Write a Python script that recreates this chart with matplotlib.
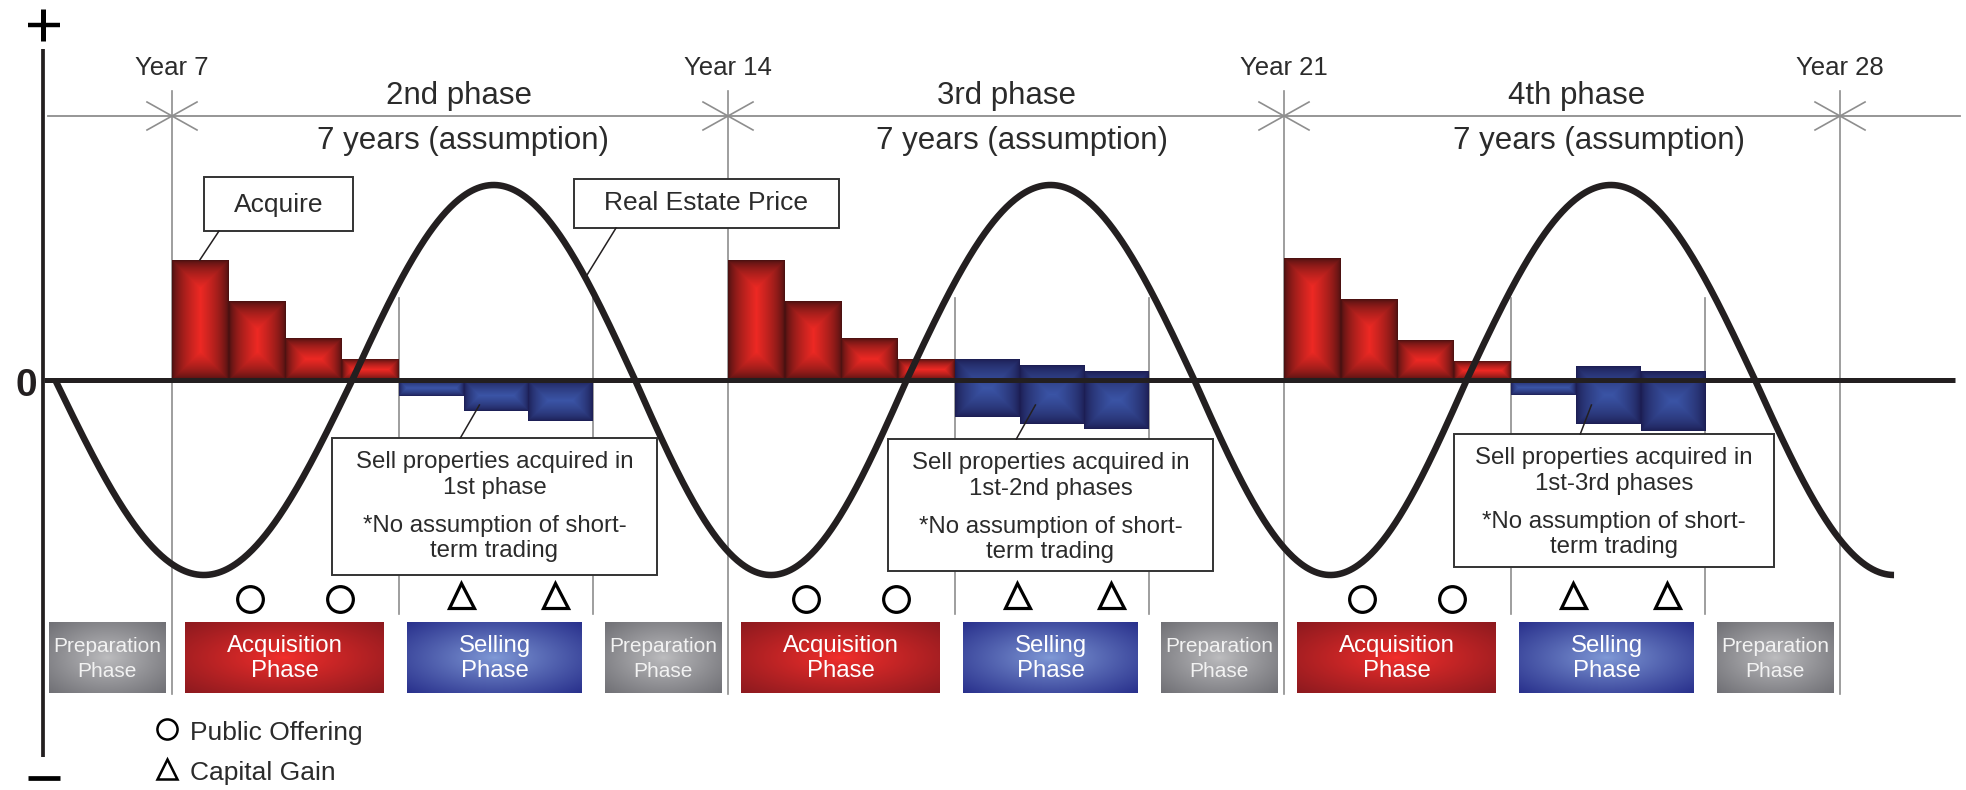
import numpy as np
import matplotlib.pyplot as plt
from matplotlib.patches import Rectangle

plt.rcParams['font.family'] = ['Liberation Sans', 'DejaVu Sans']

# ---- data -------------------------------------------------------------
phase_starts = [7, 14, 21]
year_marks = [7, 14, 21, 28]
phase_names = ['2nd phase', '3rd phase', '4th phase']
span_label = '7 years (assumption)'
sold_from = ['1st phase', '1st-2nd phases', '1st-3rd phases']

# amount acquired in each step of the acquisition phase
acquired = [[120, 79, 42, 21],
            [120, 79, 42, 21],
            [122, 81, 40, 19]]
# selling steps, drawn as floating bars (top, bottom)
sold_top = [[0, 0, 0], [21, 15, 9], [0, 14, 9]]
sold_bottom = [[-16, -31, -41], [-37, -44, -49], [-15, -44, -51]]

acq_bar_w = 0.713     # years per acquisition step
sell_bar_w = 0.818    # years per selling step

# real estate price cycle: zero crossings (years), where the line stops, amplitude
price_crossings = [5.53, 9.27, 12.83, 16.25, 19.87, 23.30, 26.93, 30.43]
price_end = 28.68
price_amp = 195

# events, in years after the start of each phase
offering_at = [0.98, 2.12]
gain_at = [3.64, 4.82]

# phase bands, in years after the start of each phase
acq_band = (0.164, 2.669)
sell_band = (2.959, 5.162)
prep_band = (5.451, 6.912)

# ---- layout -----------------------------------------------------------
PX_PER_YEAR = 79.43
X0 = 7 - 172 / PX_PER_YEAR
X1 = X0 + 1966 / PX_PER_YEAR
Y_TOP, Y_BOT = 380, -410

def xp(px):
    return X0 + px / PX_PER_YEAR

def yp(py):
    return Y_TOP - py

INK = '#231f20'
TXT = '#2b2b2b'
GRAY = '#8e8e8e'

fig = plt.figure(figsize=(19.66, 7.9), dpi=100)
ax = fig.add_axes([0, 0, 1, 1])
ax.axis('off')


def bevel(x0, x1, y0, y1, dark, light, z=2):
    # box with dark rim fading to a bright ridge in the middle
    nx = max(int(round((x1 - x0) * PX_PER_YEAR)), 2)
    ny = max(int(round(abs(y1 - y0))), 2)
    xs = np.arange(nx) + 0.5
    ys = np.arange(ny) + 0.5
    dx = np.minimum(xs, nx - xs)[None, :]
    dy = np.minimum(ys, ny - ys)[:, None]
    b = min(nx, ny) / 2
    t = np.clip(np.minimum(dx, dy) / b, 0, 1) ** 0.6
    dark, light = np.array(dark), np.array(light)
    img = dark + (light - dark) * t[..., None]
    ax.imshow(img, extent=(x0, x1, min(y0, y1), max(y0, y1)), aspect='auto',
              interpolation='bilinear', zorder=z)


def glow(x0, x1, y0, y1, center, edge, z=2):
    # soft radial shading used on the phase bands
    nx = max(int(round((x1 - x0) * PX_PER_YEAR)), 2)
    ny = max(int(round(abs(y1 - y0))), 2)
    u = np.linspace(-1, 1, nx)[None, :]
    v = np.linspace(-1, 1, ny)[:, None]
    r = np.clip(np.sqrt(u ** 2 + v ** 2) / np.sqrt(2), 0, 1) ** 0.9
    center, edge = np.array(center), np.array(edge)
    img = center + (edge - center) * r[..., None]
    ax.imshow(img, extent=(x0, x1, min(y0, y1), max(y0, y1)), aspect='auto',
              interpolation='bilinear', zorder=z)


RED_DARK, RED_LIGHT = (0.24, 0.06, 0.06), (0.93, 0.16, 0.14)
BLUE_DARK, BLUE_LIGHT = (0.10, 0.10, 0.30), (0.23, 0.33, 0.65)

# ---- gray guides --------------------------------------------------------
ax.plot([xp(48), xp(1960)], [yp(116), yp(116)], color=GRAY, lw=1.3, zorder=1)
for yr in year_marks:
    ax.plot([yr, yr], [yp(91), yp(694)], color=GRAY, lw=1.2, zorder=1)
    dx = 25 / PX_PER_YEAR
    ax.plot([yr - dx, yr + dx], [yp(116) + 14, yp(116) - 14], color=GRAY, lw=1.2, zorder=1)
    ax.plot([yr - dx, yr + dx], [yp(116) - 14, yp(116) + 14], color=GRAY, lw=1.2, zorder=1)
    ax.text(yr, yp(75), f'Year {yr}', ha='center', va='baseline', fontsize=18.5, color=TXT)

name_dx = [3.61, 3.50, 3.68]
span_dx = [3.66, 3.70, 3.97]
for i, s in enumerate(phase_starts):
    ax.text(s + name_dx[i], yp(104), phase_names[i], ha='center', va='baseline',
            fontsize=22.5, color=TXT)
    ax.text(s + span_dx[i], yp(149), span_label, ha='center', va='baseline',
            fontsize=22.5, color=TXT)
    sell0 = s + 4 * acq_bar_w
    sell1 = sell0 + 3 * sell_bar_w
    for xv in (sell0, sell1):
        ax.plot([xv, xv], [yp(298), yp(614)], color=GRAY, lw=1.2, zorder=1)

# ---- acquisition / selling bars ------------------------------------------
for i, s in enumerate(phase_starts):
    for k, h in enumerate(acquired[i]):
        x0 = s + k * acq_bar_w
        bevel(x0, x0 + acq_bar_w, 0, h, RED_DARK, RED_LIGHT)
    sell0 = s + 4 * acq_bar_w
    for k in range(3):
        x0 = sell0 + k * sell_bar_w
        bevel(x0, x0 + sell_bar_w, sold_top[i][k], sold_bottom[i][k], BLUE_DARK, BLUE_LIGHT)

# ---- axes: zero line, vertical axis, +/- signs ----------------------------
ax.plot([xp(44), xp(1955)], [0, 0], color=INK, lw=3.6, zorder=3, solid_capstyle='butt')
ax.plot([xp(43), xp(43)], [yp(49), yp(757)], color=INK, lw=2.7, zorder=3, solid_capstyle='butt')
ax.plot([xp(28), xp(60)], [yp(25), yp(25)], color='black', lw=3.2, solid_capstyle='butt')
ax.plot([xp(43), xp(43)], [yp(9), yp(41)], color='black', lw=3.6, solid_capstyle='butt')
ax.plot([xp(28), xp(60)], [yp(778), yp(778)], color='black', lw=3.4, solid_capstyle='butt')
ax.text(xp(26), yp(386), '0', ha='center', va='center', fontsize=28,
        fontweight='bold', color=INK)

# ---- real estate price cycle ----------------------------------------------
for j in range(len(price_crossings) - 1):
    a, b = price_crossings[j], price_crossings[j + 1]
    sign = -1 if j % 2 == 0 else 1
    xs = np.linspace(a, min(b, price_end), 200)
    ys = sign * price_amp * np.sin(np.pi * (xs - a) / (b - a))
    ax.plot(xs, ys, color=INK, lw=4.7, zorder=4, solid_capstyle='butt')
    if b > price_end:
        break

# ---- callouts ---------------------------------------------------------------
def callout(x0, x1, ytop, ybot, z=6):
    ax.add_patch(Rectangle((x0, ybot), x1 - x0, ytop - ybot, facecolor='white',
                           edgecolor='#333333', lw=1.4, zorder=z))

callout(xp(204), xp(353), yp(177), yp(231))
ax.text(xp(278.5), yp(212), 'Acquire', ha='center', va='baseline', fontsize=19,
        color=TXT, zorder=7)
ax.plot([xp(219), phase_starts[0] + 0.35], [yp(231), acquired[0][0]], color=INK,
        lw=1.1, zorder=6)

callout(xp(574), xp(839), yp(179), yp(228))
ax.text(xp(706.5), yp(210), 'Real Estate Price', ha='center', va='baseline',
        fontsize=19, color=TXT, zorder=7)
ax.plot([xp(616), xp(587)], [yp(228), yp(275)], color=INK, lw=1.1, zorder=6)

sell_box_dx = [2.014, 2.014, 2.140]
sell_box_w = [4.092, 4.092, 4.030]
sell_box_top = [-58, -59, -54]
sell_box_bot = [-195, -191, -187]
for i, s in enumerate(phase_starts):
    x0 = s + sell_box_dx[i]
    x1 = x0 + sell_box_w[i]
    top = sell_box_top[i]
    callout(x0, x1, top, sell_box_bot[i])
    cx = (x0 + x1) / 2
    lines = ['Sell properties acquired in', sold_from[i],
             '*No assumption of short-', 'term trading']
    for txt, off in zip(lines, [30, 56, 94, 119]):
        ax.text(cx, top - off, txt, ha='center', va='baseline', fontsize=17.3,
                color=TXT, zorder=7)
    sell0 = s + 4 * acq_bar_w
    lx0 = x0 + 3.63 - sell_box_dx[i] + (0.1 if i == 2 else 0)
    ax.plot([lx0, sell0 + sell_bar_w + 0.2], [top, -25], color=INK, lw=1.1, zorder=6)

# ---- events -----------------------------------------------------------------
for s in phase_starts:
    ax.plot([s + t for t in offering_at], [-219] * 2, 'o', ms=18.5, mfc='white',
            mec='black', mew=2.3, zorder=5, linestyle='none')
    ax.plot([s + t for t in gain_at], [-215] * 2, '^', ms=18, mfc='white',
            mec='black', mew=2.3, zorder=5, linestyle='none')

# ---- phase bands -------------------------------------------------------------
band_top, band_bot = yp(622), yp(693)

def band(x0, x1, center, edge, l1, l2, fs, tc):
    glow(x0, x1, band_bot, band_top, center, edge)
    cx = (x0 + x1) / 2
    ax.text(cx, yp(652), l1, ha='center', va='baseline', fontsize=fs, color=tc, zorder=3)
    ax.text(cx, yp(677), l2, ha='center', va='baseline', fontsize=fs, color=tc, zorder=3)

for s in [0] + phase_starts:
    band(max(s + prep_band[0], xp(45)), s + prep_band[1], (0.74, 0.74, 0.75),
         (0.44, 0.44, 0.46), 'Preparation', 'Phase', 15, '#f2f2f2')
for s in phase_starts:
    band(s + acq_band[0], s + acq_band[1], (0.95, 0.18, 0.17), (0.55, 0.10, 0.12),
         'Acquisition', 'Phase', 17.3, 'white')
    band(s + sell_band[0], s + sell_band[1], (0.50, 0.60, 0.84), (0.16, 0.19, 0.55),
         'Selling', 'Phase', 17.3, 'white')

# ---- key -----------------------------------------------------------------------
ax.plot([xp(167)], [yp(729)], 'o', ms=14.5, mfc='white', mec='black', mew=1.8)
ax.text(xp(190), yp(740), 'Public Offering', ha='left', va='baseline', fontsize=19, color=TXT)
ax.plot([xp(167)], [yp(769)], '^', ms=14, mfc='white', mec='black', mew=1.8)
ax.text(xp(190), yp(780), 'Capital Gain', ha='left', va='baseline', fontsize=19, color=TXT)

ax.set_xlim(X0, X1)
ax.set_ylim(Y_BOT, Y_TOP)
fig.savefig('out.png', dpi=100)
